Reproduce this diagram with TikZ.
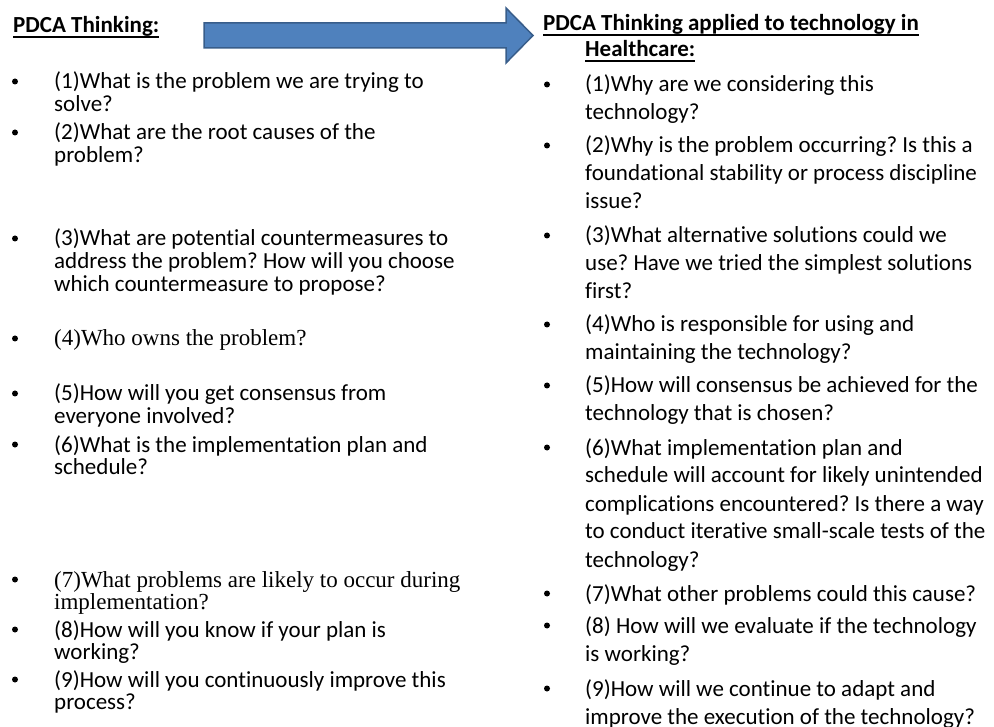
\documentclass[tikz,border=0pt]{standalone}
\usepackage{fontspec}
\setmainfont{Carlito}[Ligatures=CommonOff]
\newfontfamily\timesfont{Liberation Serif}
\definecolor{arrowblue}{HTML}{4F81BD}
\definecolor{arrowedge}{HTML}{385D8A}
\newcommand{\qlines}[1]{\begin{tabular}[t]{@{}l@{}}#1\end{tabular}}
\frenchspacing
\tikzset{
  hdr/.style={anchor=base west, inner sep=0pt, font=\fontsize{23}{26}\selectfont\bfseries},
  qleft/.style={anchor=base west, inner sep=0pt, font=\fontsize{23}{22}\selectfont},
  qright/.style={anchor=base west, inner sep=0pt, font=\fontsize{23}{28}\selectfont},
  bulletmark/.style={circle, fill=black, inner sep=0pt, minimum size=6pt, yshift=7.5pt},
  uline/.style={line width=1.8pt},
  blockarrow/.style={fill=arrowblue, draw=arrowedge, line width=1.5pt, line join=miter}
}
\begin{document}
\begin{tikzpicture}[x=1pt, y=-1pt]
\useasboundingbox (0,0) rectangle (994,727);

% Drawing the block arrow
\draw [blockarrow] (204,23) -- (506,23) -- (506,8) -- (533,35.5) -- (506,63) -- (506,48) -- (204,48) -- cycle;%

% Marking the headers
\node (hdrA) at (13,33) [hdr] {PDCA Thinking:};%
\node (hdrB) at (543,31) [hdr] {PDCA Thinking applied to technology in};%
\node (hdrC) at (585,57) [hdr] {Healthcare:};%
\draw [uline] ([yshift=-4pt]hdrA.base west) -- ([yshift=-4pt]hdrA.base east);%
\draw [uline] ([yshift=-4pt]hdrB.base west) -- ([yshift=-4pt]hdrB.base east);%
\draw [uline] ([yshift=-4pt]hdrC.base west) -- ([yshift=-4pt]hdrC.base east);%

% Marking the bullets of the left column
\foreach \y [count=\i] in {89,140,246,346,401,452,587,637,687}
  \node (bl\i) at (15,\y) [bulletmark] {};%

% Marking the bullets of the right column
\foreach \y [count=\i] in {92,153,243,332,393,455,601,633,696}
  \node (br\i) at (547,\y) [bulletmark] {};%

% Marking the questions of the left column
\node (ql1) at (54,89) [qleft] {\qlines{(1)What is the problem we are trying to\\solve?}};%
\node (ql2) at (54,140) [qleft] {\qlines{(2)What are the root causes of the\\problem?}};%
\node (ql3) at (54,246) [qleft] {\qlines{(3)What are potential countermeasures to\\address the problem? How will you choose\\which countermeasure to propose?}};%
\node (ql4) at (54,346) [qleft] {\timesfont (4)Who owns the problem?};%
\node (ql5) at (54,401) [qleft] {\qlines{(5)How will you get consensus from\\everyone involved?}};%
\node (ql6) at (54,452) [qleft] {\qlines{(6)What is the implementation plan and\\schedule?}};%
\node (ql7) at (54,587) [qleft] {\timesfont\qlines{(7)What problems are likely to occur during\\implementation?}};%
\node (ql8) at (54,637) [qleft] {\qlines{(8)How will you know if your plan is\\working?}};%
\node (ql9) at (54,687) [qleft] {\qlines{(9)How will you continuously improve this\\process?}};%

% Marking the questions of the right column
\node (qr1) at (585,92) [qright] {\qlines{(1)Why are we considering this\\technology?}};%
\node (qr2) at (585,153) [qright] {\qlines{(2)Why is the problem occurring? Is this a\\foundational stability or process discipline\\issue?}};%
\node (qr3) at (585,243) [qright] {\qlines{(3)What alternative solutions could we\\use? Have we tried the simplest solutions\\first?}};%
\node (qr4) at (585,332) [qright] {\qlines{(4)Who is responsible for using and\\maintaining the technology?}};%
\node (qr5) at (585,393) [qright] {\qlines{(5)How will consensus be achieved for the\\technology that is chosen?}};%
\node (qr6) at (585,455) [qright] {\qlines{(6)What implementation plan and\\schedule will account for likely unintended\\complications encountered? Is there a way\\to conduct iterative small-scale tests of the\\technology?}};%
\node (qr7) at (585,601) [qright] {(7)What other problems could this cause?};%
\node (qr8) at (585,633) [qright] {\qlines{(8) How will we evaluate if the technology\\is working?}};%
\node (qr9) at (585,696) [qright] {\qlines{(9)How will we continue to adapt and\\improve the execution of the technology?}};%
\end{tikzpicture}
\end{document}
